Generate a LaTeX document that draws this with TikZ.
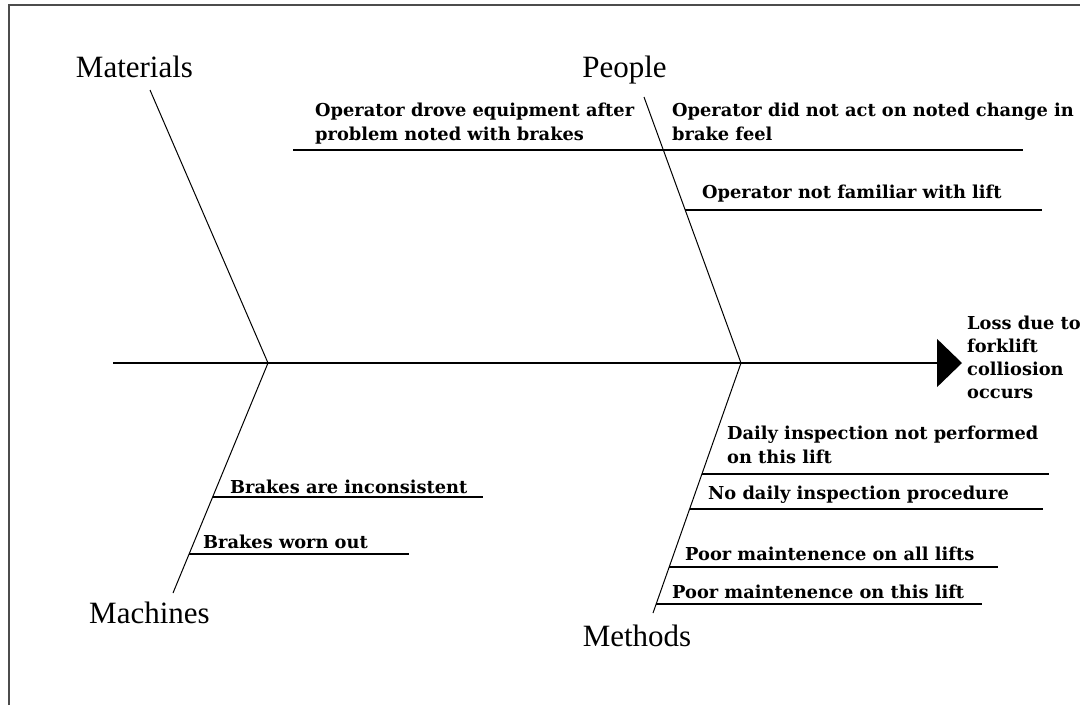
\documentclass[tikz,border=0pt]{standalone}
\usepackage{fontspec}
\setmainfont{Liberation Serif}
\newfontfamily\causefont{DejaVu Serif}
\usetikzlibrary{arrows.meta}

\begin{document}
\begin{tikzpicture}[
  x=1pt, y=-1pt,
  catlabel/.style={font=\fontsize{31}{34}\selectfont, inner sep=0pt, anchor=base},
  cause/.style={font=\causefont\bfseries\fontsize{17.8}{24}\selectfont, inner sep=0pt, anchor=base west},
  causetwo/.style={cause, align=left, anchor=north west},
  spine/.style={line width=1.5pt, -{Triangle[length=25pt, width=48pt]}},
  bone/.style={line width=1pt},
  causeline/.style={line width=1.6pt},
  border/.style={line width=2pt, draw=black!70}
]
\useasboundingbox (0,0) rectangle (1080,705);
\draw[border] (9,705) -- (9,5) -- (1080,5);

% spine and effect
\coordinate (tail) at (113,363);
\coordinate (head) at (962,363);
\coordinate (jMat) at (268,363);
\coordinate (jPeo) at (741,363);
\draw[spine] (tail) -- (head);
\node[causetwo, font=\causefont\bfseries\fontsize{17.8}{23}\selectfont] (effect) at (967,316)
  {Loss due to\\forklift\\colliosion\\occurs};

% categories
\node[catlabel] (materials) at (134.5,77) {Materials};
\node[catlabel] (people) at (624.5,77) {People};
\node[catlabel] (machines) at (149.5,623) {Machines};
\node[catlabel] (methods) at (637,646) {Methods};

\coordinate (matEnd) at (150,90);
\coordinate (peoEnd) at (644,97);
\coordinate (macEnd) at (173,593);
\coordinate (metEnd) at (653,613);
\draw[bone] (matEnd) -- (jMat);
\draw[bone] (peoEnd) -- (jPeo);
\draw[bone] (jMat) -- (macEnd);
\draw[bone] (jPeo) -- (metEnd);

% people causes
\node[causetwo] (drove) at (315,103)
  {Operator drove equipment after\\problem noted with brakes};
\node[causetwo] (noact) at (672,103) {Operator did not act on noted change in\\brake feel};
\node[cause] (notfam) at (702,198) {Operator not familiar with lift};
\coordinate (p1a) at (293,150); \coordinate (p1b) at (1023,150);
\coordinate (p2a) at (685,210); \coordinate (p2b) at (1042,210);
\draw[causeline] (p1a) -- (p1b);
\draw[causeline] (p2a) -- (p2b);

% machine causes
\node[cause] (incons) at (230,493) {Brakes are inconsistent};
\node[cause] (worn) at (203,548) {Brakes worn out};
\coordinate (m1a) at (213,497); \coordinate (m1b) at (483,497);
\coordinate (m2a) at (189,554); \coordinate (m2b) at (409,554);
\draw[causeline] (m1a) -- (m1b);
\draw[causeline] (m2a) -- (m2b);

% method causes
\node[causetwo] (daily) at (727,426) {Daily inspection not performed\\on this lift};
\node[cause] (noproc) at (708,499) {No daily inspection procedure};
\node[cause] (alllifts) at (685,560) {Poor maintenence on all lifts};
\node[cause] (thislift) at (672,598) {Poor maintenence on this lift};
\coordinate (t1a) at (702,474); \coordinate (t1b) at (1049,474);
\coordinate (t2a) at (690,509); \coordinate (t2b) at (1043,509);
\coordinate (t3a) at (669,567); \coordinate (t3b) at (998,567);
\coordinate (t4a) at (656,604); \coordinate (t4b) at (982,604);
\draw[causeline] (t1a) -- (t1b);
\draw[causeline] (t2a) -- (t2b);
\draw[causeline] (t3a) -- (t3b);
\draw[causeline] (t4a) -- (t4b);
\end{tikzpicture}
\end{document}
